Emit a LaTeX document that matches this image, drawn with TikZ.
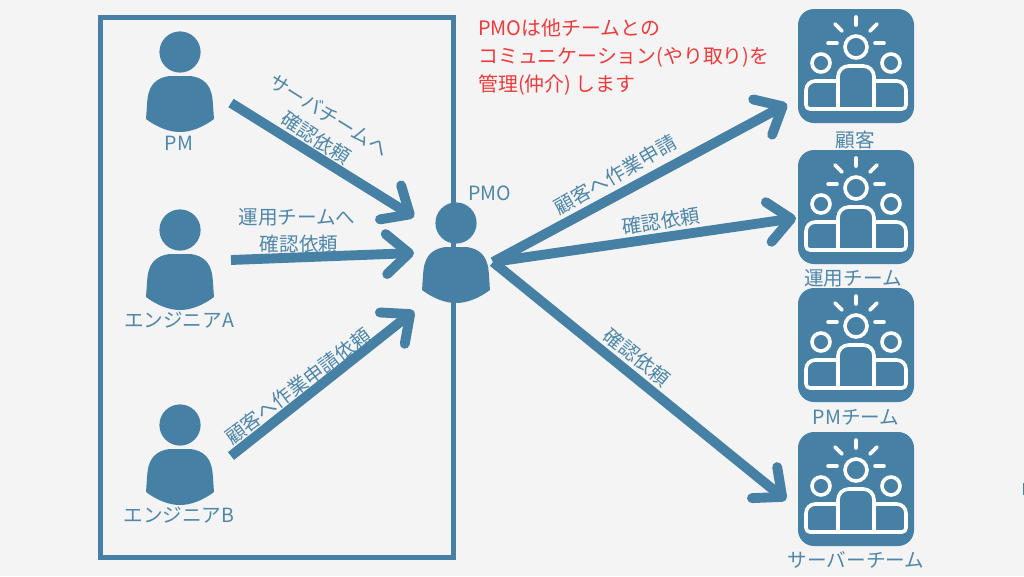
\documentclass[tikz,border=0pt]{standalone}
\usepackage{fontspec}
\setmainfont{Noto Sans CJK JP}
\usetikzlibrary{arrows.meta}
\definecolor{steel}{HTML}{4681A5}
\definecolor{labelblue}{HTML}{4F87AA}
\definecolor{bggrey}{HTML}{F4F4F4}
\definecolor{notered}{HTML}{F03A3A}
\tikzset{
  px/.style={x=0.75pt,y=-0.75pt},
  flow/.style={draw=steel,line width=7.4pt,-{Straight Barb[length=17pt,width=30pt,line width=7.4pt,round]}},
  lbl/.style={text=labelblue,font=\fontsize{14.7pt}{17pt}\selectfont,inner sep=0pt,align=center},
  note/.style={text=notered,font=\fontsize{14.9pt}{21pt}\selectfont,inner sep=0pt,align=left,anchor=north west},
  anchorpt/.style={inner sep=0pt,outer sep=0pt,minimum size=0pt},
  iconline/.style={draw=white,line width=2.7pt,line cap=round,line join=round},
  pics/person/.style={code={
    \fill[steel] (0,0) circle (20.6);
    \fill[steel] (-34,67) .. controls (-33,55) and (-33,45) .. (-31,40)
      .. controls (-28,29) and (-18,24) .. (-8,24) -- (8,24)
      .. controls (18,24) and (28,29) .. (31,40)
      .. controls (33,45) and (33,55) .. (34,67)
      .. controls (22,76) and (10,80) .. (0,80)
      .. controls (-10,80) and (-22,76) .. (-34,67) -- cycle;
  }},
  pics/team/.style={code={
    \fill[steel,rounded corners=12pt] (-58,0) rectangle (58,114);
    \draw[iconline] (0,8) -- (0,16);
    \draw[iconline] (-21,15) -- (-14,22);
    \draw[iconline] (21,15) -- (14,22);
    \draw[iconline] (-28,34) -- (-19,34);
    \draw[iconline] (28,34) -- (19,34);
    \draw[iconline] (0,38) circle (11);
    \draw[iconline] (-35,54) circle (9);
    \draw[iconline] (35,54) circle (9);
    \draw[iconline,rounded corners=8pt] (-18,100) -- (-18,57) -- (18,57) -- (18,100);
    \draw[iconline] (-18,72) [rounded corners=7pt] -- (-50,72) [rounded corners=3pt] -- (-50,100) -- (-18,100);
    \draw[iconline] (18,72) [rounded corners=7pt] -- (50,72) [rounded corners=3pt] -- (50,100) -- (18,100);
    \draw[iconline] (-18,100) -- (18,100);
  }},
}
\begin{document}
\begin{tikzpicture}[px]
\useasboundingbox (0,0) rectangle (1024,576);
\fill[bggrey] (0,0) rectangle (1024,576);
\node[anchorpt,draw=steel,line width=3.9pt,minimum width=353*0.75pt,minimum height=540*0.75pt,anchor=north west] (frame) at (100.5,17.5) {};

\pic at (180,52) {person};
\pic at (180,230) {person};
\pic at (180,425) {person};
\pic at (456,223) {person};

\pic at (856,9) {team};
\pic at (856,150) {team};
\pic at (856,288) {team};
\pic at (856,432) {team};

\coordinate (pmOut) at (231,103);
\coordinate (aOut) at (231,260);
\coordinate (bOut) at (231,456);
\coordinate (pmoInA) at (414,217);
\coordinate (pmoInB) at (414,253);
\coordinate (pmoInC) at (414,311);
\coordinate (pmoOut) at (493,262);
\coordinate (custIn) at (787,104);
\coordinate (opsIn) at (796,218);
\coordinate (srvIn) at (786,500);

\draw[flow] (pmOut) -- (pmoInA);
\draw[flow] (aOut) -- (pmoInB);
\draw[flow] (bOut) -- (pmoInC);
\draw[flow] (pmoOut) -- (custIn);
\draw[flow] (pmoOut) -- (opsIn);
\draw[flow] (pmoOut) -- (srvIn);

\node[lbl] (lpm) at (179,143) {PM};
\node[lbl] (la) at (179,320) {エンジニアA};
\node[lbl] (lb) at (179,515) {エンジニアB};
\node[lbl] (lpmo) at (490,193) {PMO};
\node[lbl] (lc) at (855,140) {顧客};
\node[lbl] (lo) at (853,278) {運用チーム};
\node[lbl] (lp) at (856,417) {PMチーム};
\node[lbl] (ls) at (856,560) {サーバーチーム};

\node[lbl,rotate=-32] (e1a) at (329,115) {サーバチームへ};
\node[lbl,rotate=-33] (e1b) at (316,138) {確認依頼};
\node[lbl] (e2a) at (297,217) {運用チームへ};
\node[lbl] (e2b) at (299,244) {確認依頼};
\node[lbl,rotate=37] (e3) at (298,386) {顧客へ作業申請依頼};
\node[lbl,rotate=30] (e4) at (615,175) {顧客へ作業申請};
\node[lbl,rotate=9] (e5) at (661,221) {確認依頼};
\node[lbl,rotate=-39] (e6) at (637,357) {確認依頼};

\node[note] (note) at (478,19) {PMOは他チームとの\\コミュニケーション(やり取り)を\\管理(仲介) します};

\draw[steel,line width=0.8pt] (1023.5,483) -- (1023.5,495);
\end{tikzpicture}
\end{document}
